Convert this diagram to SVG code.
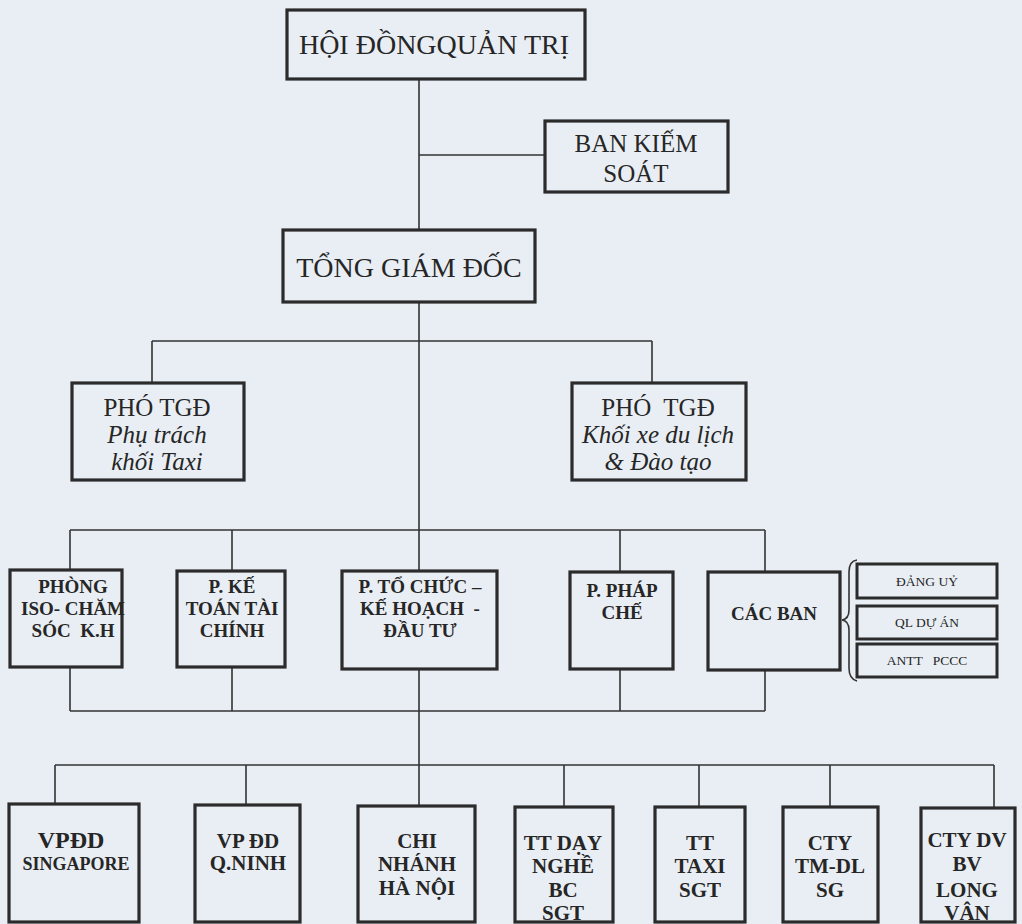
<svg xmlns="http://www.w3.org/2000/svg" width="1022" height="924" viewBox="0 0 1022 924">
<style>
.bg{fill:#e9eef4}
.box{fill:none;stroke:#2b2b2b;stroke-width:3.2}
.sbox{fill:none;stroke:#2b2b2b;stroke-width:3}
.ln{fill:none;stroke:#333;stroke-width:1.6}
text{font-family:'Liberation Serif','Tinos','Times New Roman','Noto Serif','DejaVu Serif',serif;fill:#262626;text-anchor:middle}
.t1{font-size:28px}
.t2{font-size:25px}
.it{font-size:25px;font-style:italic}
.b{font-size:19px;font-weight:bold}
.bb{font-size:21px;font-weight:bold}
.s{font-size:13.5px}
</style>
<rect class="bg" x="0" y="0" width="1022" height="924"/>
<g id="connectors">
<path class="ln" d="M419 79V230M419 155H545"/>
<path class="ln" d="M419 302V572M152 341H652M152 341V383M652 341V383"/>
<path class="ln" d="M70 530H765M70 530V569M232 530V570M620 530V572M765 530V571"/>
<path class="ln" d="M70 667V711M232 667V711M620 669V711M765 670V711M70 711H765M419 669V765"/>
<path class="ln" d="M55 765H994M55 765V804M246 765V805M419 765V806M564 765V807M699 765V807M830 765V807M994 765V808"/>
<path class="ln" d="M857 560Q849 561 849 572V610Q849 619 842 620Q849 621 849 630V668Q849 679 857 681"/>
</g>
<g id="hdqt"><rect class="box" x="287" y="10" width="298" height="69"/><text class="t1" x="434" y="54">HỘI ĐỒNGQUẢN TRỊ</text></g>
<g id="bks"><rect class="box" x="545" y="121" width="183" height="71"/><text class="t2" x="636" y="152">BAN KIẾM</text><text class="t2" x="636" y="182">SOÁT</text></g>
<g id="tgd"><rect class="box" x="283" y="230" width="252" height="72"/><text class="t1" x="409" y="277">TỔNG GIÁM ĐỐC</text></g>
<g id="pho1"><rect class="box" x="72" y="383" width="172" height="97"/><text class="t2" x="157" y="416">PHÓ TGĐ</text><text class="it" x="157" y="443">Phụ trách</text><text class="it" x="157" y="470">khối Taxi</text></g>
<g id="pho2"><rect class="box" x="572" y="383" width="174" height="97"/><text class="t2" x="658" y="416" xml:space="preserve">PHÓ  TGĐ</text><text class="it" x="658" y="443">Khối xe du lịch</text><text class="it" x="658" y="470">&amp; Đào tạo</text></g>
<g id="iso"><rect class="box" x="10" y="570" width="112" height="97"/><text class="b" x="73" y="593">PHÒNG</text><text class="b" x="73" y="615">ISO- CHĂM</text><text class="b" x="73" y="637" xml:space="preserve">SÓC  K.H</text></g>
<g id="ketoan"><rect class="box" x="177" y="571" width="108" height="96"/><text class="b" x="232" y="593">P. KẾ</text><text class="b" x="232" y="615">TOÁN TÀI</text><text class="b" x="232" y="637">CHÍNH</text></g>
<g id="tochuc"><rect class="box" x="342" y="571" width="155" height="98"/><text class="b" x="420" y="593">P. TỔ CHỨC –</text><text class="b" x="420" y="615" xml:space="preserve">KẾ HOẠCH  -</text><text class="b" x="420" y="637">ĐẦU TƯ</text></g>
<g id="phapche"><rect class="box" x="570" y="572" width="103" height="97"/><text class="b" x="622" y="597">P. PHÁP</text><text class="b" x="622" y="619">CHẾ</text></g>
<g id="cacban"><rect class="box" x="708" y="572" width="132" height="98"/><text class="b" x="774" y="620">CÁC BAN</text></g>
<g id="dangu"><rect class="sbox" x="857" y="564" width="140" height="34"/><text class="s" x="927" y="586">ĐẢNG UỶ</text></g>
<g id="qlda"><rect class="sbox" x="857" y="606" width="140" height="33"/><text class="s" x="927" y="627">QL DỰ ÁN</text></g>
<g id="antt"><rect class="sbox" x="857" y="644" width="140" height="33"/><text class="s" x="927" y="665" xml:space="preserve">ANTT   PCCC</text></g>
<g id="vpdd"><rect class="box" x="9" y="804" width="130" height="118"/><text class="bb" x="71" y="848" style="font-size:24px">VPĐD</text><text class="b" x="76" y="870" style="font-size:18px">SINGAPORE</text></g>
<g id="qninh"><rect class="box" x="195" y="805" width="105" height="117"/><text class="bb" x="248" y="848">VP ĐD</text><text class="bb" x="248" y="870">Q.NINH</text></g>
<g id="hanoi"><rect class="box" x="358" y="806" width="117" height="116"/><text class="bb" x="417" y="848">CHI</text><text class="bb" x="417" y="871">NHÁNH</text><text class="bb" x="417" y="895">HÀ NỘI</text></g>
<g id="daynghe"><rect class="box" x="515" y="807" width="98" height="115"/><text class="bb" x="563" y="850">TT DẠY</text><text class="bb" x="563" y="873">NGHỀ</text><text class="bb" x="563" y="897">BC</text><text class="bb" x="563" y="920">SGT</text></g>
<g id="taxi"><rect class="box" x="655" y="807" width="90" height="115"/><text class="bb" x="700" y="850">TT</text><text class="bb" x="700" y="873">TAXI</text><text class="bb" x="700" y="897">SGT</text></g>
<g id="tmdl"><rect class="box" x="783" y="807" width="95" height="115"/><text class="bb" x="830" y="850">CTY</text><text class="bb" x="830" y="873">TM-DL</text><text class="bb" x="830" y="897">SG</text></g>
<g id="longvan"><rect class="box" x="921" y="808" width="94" height="114"/><text class="bb" x="967" y="847">CTY DV</text><text class="bb" x="967" y="871">BV</text><text class="bb" x="967" y="897">LONG</text><text class="bb" x="967" y="920">VÂN</text></g>
</svg>
